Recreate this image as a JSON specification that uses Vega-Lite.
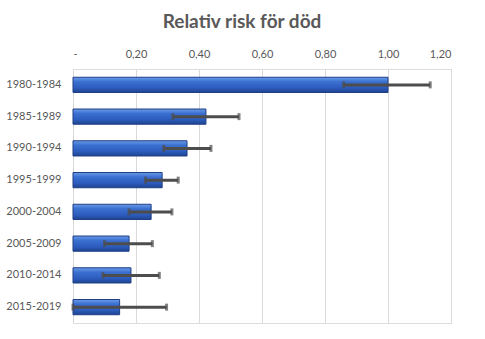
{
  "$schema": "https://vega.github.io/schema/vega-lite/v6.json",
  "width": 378,
  "height": 254,
  "autosize": "none",
  "padding": {"left": 73, "top": 69, "right": 34, "bottom": 16},
  "background": "white",
  "title": {
    "text": "Relativ risk för död",
    "font": "Lato",
    "fontSize": 19,
    "fontWeight": "bold",
    "color": "#595959",
    "anchor": "middle",
    "dx": -20,
    "offset": 16
  },
  "data": {
    "values": [
      {"period": "1980-1984", "rr": 1.0, "lo": 0.859, "hi": 1.134},
      {"period": "1985-1989", "rr": 0.422, "lo": 0.317, "hi": 0.527},
      {"period": "1990-1994", "rr": 0.362, "lo": 0.288, "hi": 0.438},
      {"period": "1995-1999", "rr": 0.283, "lo": 0.23, "hi": 0.334},
      {"period": "2000-2004", "rr": 0.248, "lo": 0.178, "hi": 0.314},
      {"period": "2005-2009", "rr": 0.178, "lo": 0.1, "hi": 0.252},
      {"period": "2010-2014", "rr": 0.184, "lo": 0.095, "hi": 0.274},
      {"period": "2015-2019", "rr": 0.148, "lo": 0.0, "hi": 0.297}
    ]
  },
  "encoding": {
    "y": {
      "field": "period",
      "type": "nominal",
      "sort": null,
      "scale": {"paddingInner": 0.52, "paddingOuter": 0.26},
      "axis": {
        "title": null,
        "domain": false,
        "ticks": false,
        "labelPadding": 12,
        "labelFont": "Lato",
        "labelFontSize": 11,
        "labelColor": "#595959"
      }
    }
  },
  "layer": [
    {
      "mark": {
        "type": "bar",
        "stroke": "#1f3f85",
        "strokeWidth": 1,
        "color": {
          "gradient": "linear",
          "x1": 0, "y1": 0, "x2": 0, "y2": 1,
          "stops": [
            {"offset": 0, "color": "#6a9ce8"},
            {"offset": 0.3, "color": "#3a6fd0"},
            {"offset": 0.7, "color": "#2c5cbd"},
            {"offset": 1, "color": "#1f4390"}
          ]
        }
      },
      "encoding": {
        "x": {
          "field": "rr",
          "type": "quantitative",
          "scale": {"domain": [0, 1.2], "nice": false},
          "axis": {
            "orient": "top",
            "title": null,
            "values": [0, 0.2, 0.4, 0.6, 0.8, 1.0, 1.2],
            "labelExpr": "datum.value == 0 ? '-' : replace(format(datum.value, '.2f'), '.', ',')",
            "domain": false,
            "ticks": false,
            "grid": true,
            "gridColor": "#d9d9d9",
            "labelPadding": 10,
            "labelFont": "Lato",
            "labelFontSize": 11,
            "labelColor": "#595959"
          }
        }
      }
    },
    {
      "mark": {"type": "rule", "color": "#4d4d4d", "strokeWidth": 3},
      "encoding": {
        "x": {"field": "lo", "type": "quantitative"},
        "x2": {"field": "hi"}
      }
    },
    {
      "mark": {"type": "tick", "color": "#4d4d4d", "orient": "vertical", "size": 7, "thickness": 3},
      "encoding": {"x": {"field": "lo", "type": "quantitative"}}
    },
    {
      "mark": {"type": "tick", "color": "#4d4d4d", "orient": "vertical", "size": 7, "thickness": 3},
      "encoding": {"x": {"field": "hi", "type": "quantitative"}}
    }
  ]
}
